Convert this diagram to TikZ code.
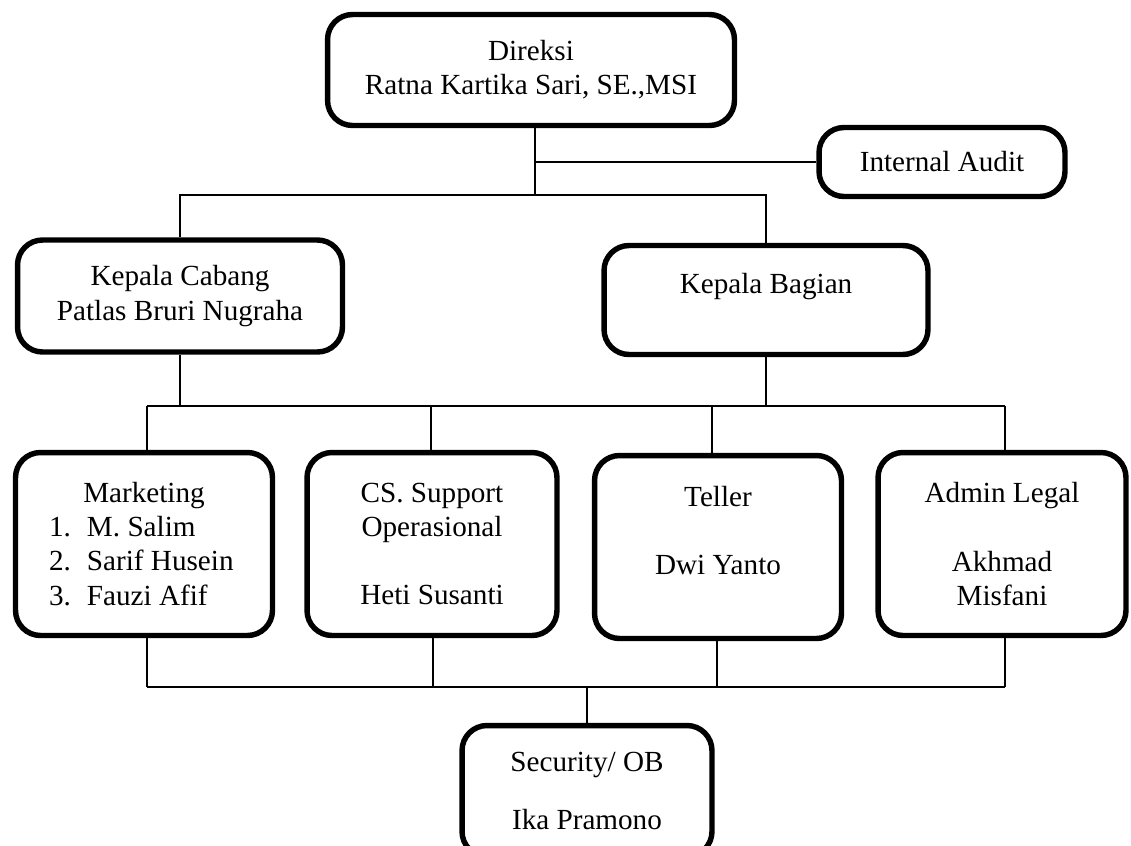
\documentclass[tikz,border=0pt]{standalone}
\usepackage{fontspec}
\setmainfont{Liberation Serif}
\begin{document}
\begin{tikzpicture}[x=0.02cm, y=-0.02cm,
    box/.style={draw=borderColour, line width=3.1pt, rounded corners=0.5cm, align=center, inner sep=0pt, font=\fontsize{16.6}{19.4}\selectfont},
    link/.style={draw=borderColour, line width=0.85pt}]
    \definecolor{borderColour}{HTML}{000000}
    \def\mktline#1#2{\makebox[3.8cm][l]{\makebox[0.76cm][l]{#1}#2}}

    \useasboundingbox (0,0) rectangle (1131,845);

    % Top level
    \node[box, minimum width=8.14cm, minimum height=2.22cm] (direksi) at (531,70) {Direksi\\ Ratna Kartika Sari, SE.,MSI};
    \node[box, minimum width=4.92cm, minimum height=1.38cm] (audit) at (942,162) {Internal Audit};

    % Second level
    \node[box, minimum width=6.5cm, minimum height=2.24cm] (kacab) at (180,296) {Kepala Cabang\\ Patlas Bruri Nugraha};
    \node[box, minimum width=6.48cm, minimum height=2.18cm] (kabag) at (766,300) {Kepala Bagian\\ \mbox{}};

    % Staff
    \node[box, minimum width=5.14cm, minimum height=3.66cm] (marketing) at (144,544)
        {Marketing\\ \mktline{1.}{M. Salim}\\ \mktline{2.}{Sarif Husein}\\ \mktline{3.}{Fauzi Afif}};
    \node[box, minimum width=5.0cm, minimum height=3.66cm] (cs) at (432,544)
        {CS. Support\\ Operasional\\ \mbox{}\\ Heti Susanti};
    \node[box, minimum width=4.94cm, minimum height=3.66cm] (teller) at (718,547)
        {Teller\\ \mbox{}\\ Dwi Yanto\\ \mbox{}};
    \node[box, minimum width=4.96cm, minimum height=3.66cm] (admin) at (1002,544)
        {Admin Legal\\ \mbox{}\\ Akhmad\\ Misfani};
    \node[box, minimum width=5.0cm, minimum height=2.62cm] (security) at (587,791)
        {Security/ OB\\[0.48cm] Ika Pramono};

    % Direksi to audit and second level
    \coordinate (busTop) at (535,195);
    \draw[link] (direksi.south -| busTop) -- (busTop);
    \draw[link] (audit.west -| busTop) -- (audit.west);
    \draw[link] (kacab.north) -- (kacab.north |- busTop) -- (kabag.north |- busTop) -- (kabag.north);

    % Second level to staff
    \coordinate (dMkt) at (147,406);
    \coordinate (dCs) at (431,406);
    \coordinate (dTel) at (712,406);
    \coordinate (dAdm) at (1005,406);
    \draw[link] (dMkt) -- (dAdm);
    \draw[link] (kacab.south) -- (kacab.south |- dMkt);
    \draw[link] (kabag.south) -- (kabag.south |- dMkt);
    \foreach \d/\n in {dMkt/marketing, dCs/cs, dTel/teller, dAdm/admin}
        \draw[link] (\d) -- (\d |- \n.north);

    % Staff to security
    \coordinate (uMkt) at (147,687);
    \coordinate (uCs) at (433,687);
    \coordinate (uTel) at (717,687);
    \coordinate (uAdm) at (1005,687);
    \draw[link] (uMkt) -- (uAdm);
    \foreach \u/\n in {uMkt/marketing, uCs/cs, uTel/teller, uAdm/admin}
        \draw[link] (\u |- \n.south) -- (\u);
    \draw[link] (security.north) -- (security.north |- uMkt);
\end{tikzpicture}
\end{document}
